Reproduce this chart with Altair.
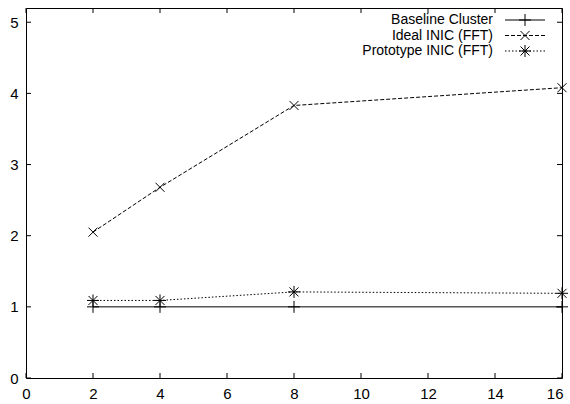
import altair as alt
import pandas as pd

# Data
nodes = [2, 4, 8, 16]
series_names = ["Baseline Cluster", "Ideal INIC (FFT)", "Prototype INIC (FFT)"]
baseline = [1.0, 1.0, 1.0, 1.0]
ideal = [2.05, 2.68, 3.83, 4.08]
prototype = [1.09, 1.09, 1.21, 1.19]
x_ticks = [0, 2, 4, 6, 8, 10, 12, 14, 16]
y_ticks = [0, 1, 2, 3, 4, 5]

W, H = 536, 370
FONT = "Liberation Sans"

values = [baseline, ideal, prototype]
dashes = [[1, 0], [4, 2], [1.5, 2]]
shapes = [
    "M-1,0L1,0M0,-1L0,1",
    "M-0.75,-0.75L0.75,0.75M-0.75,0.75L0.75,-0.75",
    "M-1,0L1,0M0,-1L0,1M-0.75,-0.75L0.75,0.75M-0.75,0.75L0.75,-0.75",
]

xs = alt.Scale(domain=[0, 16], nice=False)
ys = alt.Scale(domain=[0, 5.2], nice=False)

layers = []
axis_df = pd.DataFrame({"x": [0], "y": [0]})
axes = alt.Chart(axis_df).mark_point(opacity=0).encode(
    x=alt.X("x:Q", scale=xs, axis=alt.Axis(values=x_ticks, format="d", title=None, grid=False, domain=False,
                                            ticks=False, labelPadding=8, labelFont=FONT, labelFontSize=15,
                                            labelColor="black", labelFlush=False,
                                            labelAlign=alt.expr("datum.value == 16 ? 'right' : 'center'"),
                                            labelOffset=alt.expr("datum.value == 16 ? 1 : 0"))),
    y=alt.Y("y:Q", scale=ys, axis=alt.Axis(values=y_ticks, format="d", title=None, grid=False, domain=False,
                                            ticks=False, labelPadding=8, labelFont=FONT, labelFontSize=15,
                                            labelColor="black", labelFlush=False)),
)
layers.append(axes)

xt = pd.DataFrame({"v": x_ticks})
yt = pd.DataFrame({"v": y_ticks})
TL = 5
layers.append(alt.Chart(xt).mark_rule(color="black", strokeWidth=1).encode(
    x=alt.X("v:Q", scale=xs), y=alt.value(H), y2=alt.value(H - TL)))
layers.append(alt.Chart(xt).mark_rule(color="black", strokeWidth=1).encode(
    x=alt.X("v:Q", scale=xs), y=alt.value(0), y2=alt.value(TL)))
layers.append(alt.Chart(yt).mark_rule(color="black", strokeWidth=1).encode(
    y=alt.Y("v:Q", scale=ys), x=alt.value(0), x2=alt.value(TL)))
layers.append(alt.Chart(yt).mark_rule(color="black", strokeWidth=1).encode(
    y=alt.Y("v:Q", scale=ys), x=alt.value(W), x2=alt.value(W - TL)))

leg_y = [12, 27.5, 43]
for i, name in enumerate(series_names):
    df = pd.DataFrame({"x": nodes, "y": values[i]})
    layers.append(alt.Chart(df).mark_line(color="black", strokeWidth=1, strokeDash=dashes[i]).encode(
        x=alt.X("x:Q", scale=xs), y=alt.Y("y:Q", scale=ys)))
    layers.append(alt.Chart(df).mark_point(shape=shapes[i], size=144, color="black", strokeWidth=1,
                                           filled=False, opacity=1).encode(
        x=alt.X("x:Q", scale=xs), y=alt.Y("y:Q", scale=ys)))
    ldf = pd.DataFrame({"name": [name]})
    layers.append(alt.Chart(ldf).mark_text(align="right", baseline="middle", font=FONT, fontSize=14,
                                           color="black").encode(
        text="name:N", x=alt.value(467), y=alt.value(leg_y[i])))
    layers.append(alt.Chart(ldf).mark_rule(color="black", strokeWidth=1, strokeDash=dashes[i]).encode(
        x=alt.value(479), x2=alt.value(519), y=alt.value(leg_y[i])))
    layers.append(alt.Chart(ldf).mark_point(shape=shapes[i], size=144, color="black", strokeWidth=1,
                                            filled=False, opacity=1).encode(
        x=alt.value(499), y=alt.value(leg_y[i])))

chart = alt.layer(*layers).properties(
    width=W, height=H,
    autosize=alt.AutoSizeParams(type="none"),
    padding={"left": 26, "top": 8, "right": 8, "bottom": 26},
    background="white",
).configure_view(stroke="black", strokeWidth=1)

chart.save("out.html", embed_options={"renderer": "svg", "actions": False})
